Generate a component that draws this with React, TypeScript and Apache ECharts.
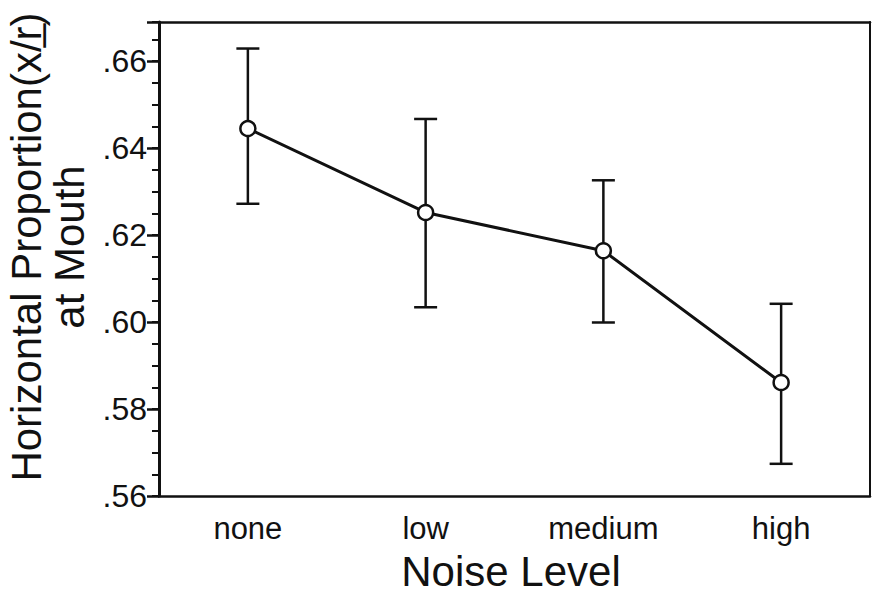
import React, { useEffect, useRef } from "react";
import * as echarts from "echarts";

const categories = ["none", "low", "medium", "high"];
const means = [0.6445, 0.6252, 0.6164, 0.5861];
const lows = [0.6272, 0.6034, 0.5999, 0.5674];
const highs = [0.6629, 0.6467, 0.6326, 0.6042];
const yMin = 0.56;
const yMax = 0.669;

export default function App() {
  const ref = useRef<HTMLDivElement>(null);
  useEffect(() => {
    document.body.style.margin = "0";
    if (!ref.current) return;
    const chart = echarts.init(ref.current, undefined, { renderer: "svg" });
    const font = "'Liberation Sans', Arial, Helvetica, sans-serif";
    const errData = categories.map((c, i) => [i, lows[i], highs[i]]);
    chart.setOption({
      animation: false,
      backgroundColor: "#ffffff",
      grid: { left: 159, top: 22, right: 2, bottom: 97, containLabel: false },
      xAxis: [
        {
          type: "category",
          data: categories,
          position: "bottom",
          boundaryGap: true,
          axisLine: { lineStyle: { color: "#111", width: 2.5 } },
          axisTick: { alignWithLabel: true, length: 11, lineStyle: { color: "#111", width: 2.5 } },
          axisLabel: { color: "#111", fontSize: 31, fontFamily: font, margin: 17 },
          splitLine: { show: false },
        },
        {
          type: "category",
          data: categories,
          position: "top",
          boundaryGap: true,
          axisLine: { lineStyle: { color: "#111", width: 2.5 } },
          axisTick: { alignWithLabel: true, length: 11, lineStyle: { color: "#111", width: 2.5 } },
          axisLabel: { show: false },
          splitLine: { show: false },
        },
      ],
      yAxis: [
        {
          type: "value",
          position: "left",
          min: yMin,
          max: yMax,
          interval: 0.02,
          axisLine: { show: true, lineStyle: { color: "#111", width: 3 } },
          axisTick: { show: true, length: 12, lineStyle: { color: "#111", width: 2.5 } },
          axisLabel: {
            color: "#111",
            fontSize: 32,
            fontFamily: font,
            margin: 12,
            formatter: (v: number) => {
              const k = Math.round(v * 100);
              if (Math.abs(v * 100 - k) > 1e-6 || k % 2 !== 0) return "";
              return "." + String(k);
            },
          },
          splitLine: { show: false },
        },
        {
          type: "value",
          position: "left",
          min: yMin,
          max: yMax,
          interval: 0.005,
          axisLine: { show: false },
          axisTick: { show: true, length: 7, lineStyle: { color: "#111", width: 2 } },
          axisLabel: { show: false },
          splitLine: { show: false },
        },
        {
          type: "value",
          position: "right",
          min: yMin,
          max: yMax,
          axisLine: { show: true, lineStyle: { color: "#111", width: 2 } },
          axisTick: { show: false },
          axisLabel: { show: false },
          splitLine: { show: false },
        },
      ],
      series: [
        {
          type: "custom",
          xAxisIndex: 0,
          yAxisIndex: 0,
          z: 1,
          data: errData,
          renderItem: (params: any, api: any) => {
            const x = api.value(0);
            const lo = api.coord([x, api.value(1)]);
            const hi = api.coord([x, api.value(2)]);
            const half = 11.5;
            const style = { stroke: "#111", lineWidth: 2.5 };
            return {
              type: "group",
              children: [
                { type: "line", shape: { x1: lo[0], y1: lo[1], x2: hi[0], y2: hi[1] }, style },
                { type: "line", shape: { x1: lo[0] - half, y1: lo[1], x2: lo[0] + half, y2: lo[1] }, style },
                { type: "line", shape: { x1: hi[0] - half, y1: hi[1], x2: hi[0] + half, y2: hi[1] }, style },
              ],
            };
          },
        },
        {
          type: "line",
          xAxisIndex: 0,
          yAxisIndex: 0,
          z: 3,
          data: means,
          symbol: "circle",
          symbolSize: 15,
          lineStyle: { color: "#111", width: 3 },
          itemStyle: { color: "#ffffff", borderColor: "#111", borderWidth: 2.5 },
        },
      ],
      graphic: [
        {
          type: "text",
          x: 511,
          y: 571,
          style: {
            text: "Noise Level",
            fontSize: 42,
            fontFamily: font,
            fill: "#111",
            align: "center",
            verticalAlign: "middle",
          },
        },
        {
          type: "text",
          x: 48,
          y: 247,
          rotation: Math.PI / 2,
          style: {
            text: "Horizontal Proportion(x/r\u0332)\nat Mouth",
            fontSize: 42,
            lineHeight: 43,
            fontFamily: font,
            fill: "#111",
            align: "center",
            verticalAlign: "middle",
          },
        },
      ],
    });
    return () => chart.dispose();
  }, []);
  return <div ref={ref} style={{ width: 872, height: 593 }} />;
}
